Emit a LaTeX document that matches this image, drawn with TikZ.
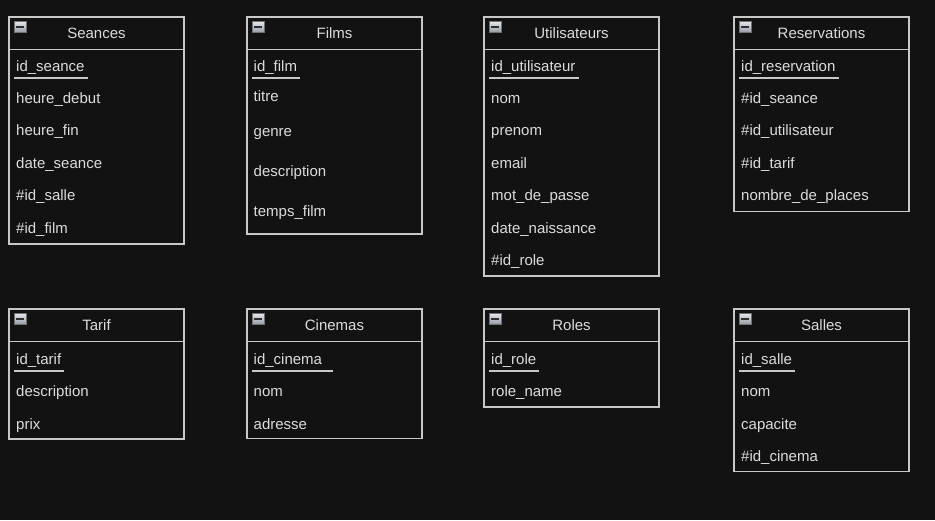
\documentclass[tikz,border=0pt]{standalone}
\usepackage{fontspec}
\setmainfont{Liberation Sans}
\usepackage{tikz}
\usetikzlibrary{positioning}
\usepackage{xcolor}
\definecolor{canvas}{HTML}{121212}
\definecolor{edge}{HTML}{C8C8C8}
\definecolor{ink}{HTML}{DCDCDC}
\definecolor{iconhi}{HTML}{E4E7EC}
\definecolor{iconlo}{HTML}{959BA6}
\definecolor{iconrim}{HTML}{707070}
\definecolor{icondash}{HTML}{2E2E2E}

\begin{document}
\begin{tikzpicture}[x=1pt, y=-1pt, node distance=0pt, font=\fontsize{15}{18}\selectfont]
\tikzstyle{head} = [rectangle, draw=edge, line width=1.3, outer sep=0,
    minimum width=175, minimum height=32.5, text=ink, anchor=north west]
\tikzstyle{body} = [rectangle, draw=edge, line width=1.3, outer sep=0,
    minimum width=175]
\tikzstyle{icon} = [rectangle, draw=iconrim, line width=0.8, top color=iconhi,
    bottom color=iconlo, minimum width=11.5, minimum height=11, inner sep=0,
    anchor=north west, path picture={\fill[icondash]
    ([xshift=2pt,yshift=-0.9pt]path picture bounding box.west) rectangle
    ([xshift=-2pt,yshift=0.9pt]path picture bounding box.east);}]
\tikzstyle{field} = [inner sep=0, text height=11, text depth=6.5, text=ink,
    anchor=base west]
\tikzstyle{keyline} = [draw=edge, line width=1.6]

\fill[canvas] (0,0) rectangle (935,520);

% Seances
\node (seances) [head] at (9,17) {Seances};
\node (seancesBody) [body, below=of seances, minimum height=194.5] {};
\node (seancesIcon) [icon] at (14,21) {};
\node (seances1) [field] at (16,71.5) {id\_seance};
\node (seances2) [field] at (16,103.5) {heure\_debut};
\node (seances3) [field] at (16,135.5) {heure\_fin};
\node (seances4) [field] at (16,168.5) {date\_seance};
\node (seances5) [field] at (16,200.5) {\#id\_salle};
\node (seances6) [field] at (16,233.5) {\#id\_film};
\path[keyline] ([xshift=-2pt]seances1.south west) -- ([xshift=3pt]seances1.south east);

% Films
\node (films) [head] at (247,17) {Films};
\node (filmsBody) [body, below=of films, minimum height=184.5] {};
\node (filmsIcon) [icon] at (252,21) {};
\node (films1) [field] at (253.5,71.5) {id\_film};
\node (films2) [field] at (253.5,101.5) {titre};
\node (films3) [field] at (253.5,136.5) {genre};
\node (films4) [field] at (253.5,176.5) {description};
\node (films5) [field] at (253.5,216.5) {temps\_film};
\path[keyline] ([xshift=-2pt]films1.south west) -- ([xshift=3pt]films1.south east);

% Utilisateurs
\node (users) [head] at (484,17) {Utilisateurs};
\node (usersBody) [body, below=of users, minimum height=226.5] {};
\node (usersIcon) [icon] at (489,21) {};
\node (users1) [field] at (491,71.5) {id\_utilisateur};
\node (users2) [field] at (491,103.5) {nom};
\node (users3) [field] at (491,135.5) {prenom};
\node (users4) [field] at (491,168.5) {email};
\node (users5) [field] at (491,200.5) {mot\_de\_passe};
\node (users6) [field] at (491,233.5) {date\_naissance};
\node (users7) [field] at (491,265.5) {\#id\_role};
\path[keyline] ([xshift=-2pt]users1.south west) -- ([xshift=3pt]users1.south east);

% Reservations
\node (resa) [head] at (734,17) {Reservations};
\node (resaBody) [body, below=of resa, minimum height=162] {};
\node (resaIcon) [icon] at (739,21) {};
\node (resa1) [field] at (741,71.5) {id\_reservation};
\node (resa2) [field] at (741,103.5) {\#id\_seance};
\node (resa3) [field] at (741,135.5) {\#id\_utilisateur};
\node (resa4) [field] at (741,168.5) {\#id\_tarif};
\node (resa5) [field] at (741,200.5) {nombre\_de\_places};
\path[keyline] ([xshift=-2pt]resa1.south west) -- ([xshift=3pt]resa1.south east);

% Tarif
\node (tarif) [head] at (9,309) {Tarif};
\node (tarifBody) [body, below=of tarif, minimum height=97.5] {};
\node (tarifIcon) [icon] at (14,313) {};
\node (tarif1) [field] at (16,364) {id\_tarif};
\node (tarif2) [field] at (16,396) {description};
\node (tarif3) [field] at (16,429) {prix};
\path[keyline] ([xshift=-2pt]tarif1.south west) -- ([xshift=3pt]tarif1.south east);

% Cinemas
\node (cine) [head] at (247,309) {Cinemas};
\node (cineBody) [body, below=of cine, minimum height=97] {};
\node (cineIcon) [icon] at (252,313) {};
\node (cine1) [field] at (253.5,364) {id\_cinema\rule{8pt}{0pt}};
\node (cine2) [field] at (253.5,396) {nom};
\node (cine3) [field] at (253.5,429) {adresse};
\path[keyline] ([xshift=-2pt]cine1.south west) -- ([xshift=3pt]cine1.south east);

% Roles
\node (roles) [head] at (484,309) {Roles};
\node (rolesBody) [body, below=of roles, minimum height=65.5] {};
\node (rolesIcon) [icon] at (489,313) {};
\node (roles1) [field] at (491,364) {id\_role};
\node (roles2) [field] at (491,396) {role\_name};
\path[keyline] ([xshift=-2pt]roles1.south west) -- ([xshift=3pt]roles1.south east);

% Salles
\node (salles) [head] at (734,309) {Salles};
\node (sallesBody) [body, below=of salles, minimum height=130] {};
\node (sallesIcon) [icon] at (739,313) {};
\node (salles1) [field] at (741,364) {id\_salle};
\node (salles2) [field] at (741,396) {nom};
\node (salles3) [field] at (741,429) {capacite};
\node (salles4) [field] at (741,461) {\#id\_cinema};
\path[keyline] ([xshift=-2pt]salles1.south west) -- ([xshift=3pt]salles1.south east);
\end{tikzpicture}
\end{document}
